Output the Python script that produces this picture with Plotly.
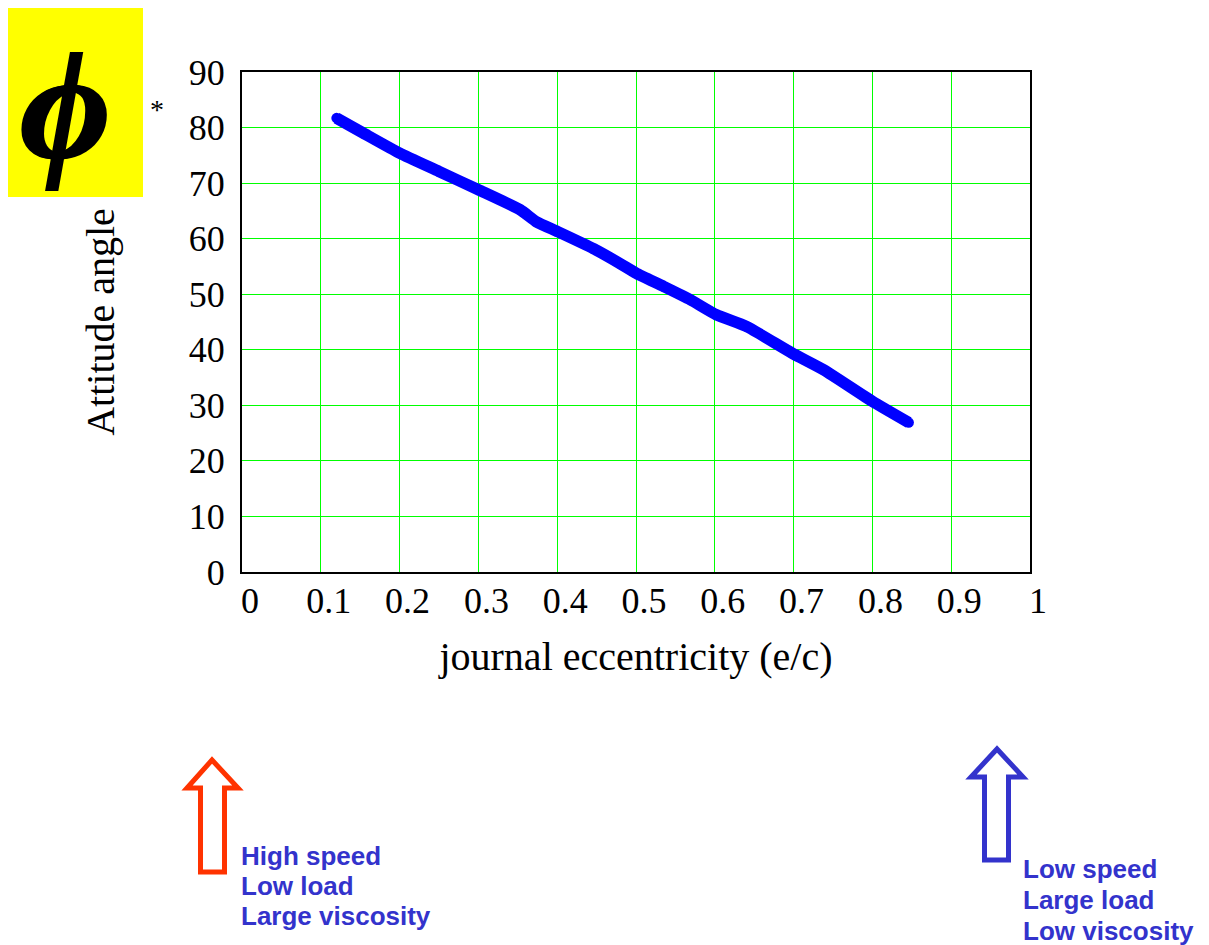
import plotly.graph_objects as go

# ---- data ----
eccentricity = [0.120, 0.154, 0.200, 0.250, 0.300, 0.353, 0.374, 0.400, 0.446, 0.480,
                0.500, 0.535, 0.569, 0.602, 0.640, 0.698, 0.738, 0.800, 0.846]
attitude_angle = [81.7, 79.0, 75.4, 72.1, 68.8, 65.2, 63.0, 61.3, 58.2, 55.5,
                  53.8, 51.4, 49.0, 46.3, 44.2, 39.4, 36.4, 30.7, 26.9]
x_ticks = [0, 0.1, 0.2, 0.3, 0.4, 0.5, 0.6, 0.7, 0.8, 0.9, 1]
x_tick_text = ["0", "0.1", "0.2", "0.3", "0.4", "0.5", "0.6", "0.7", "0.8", "0.9", "1"]
y_ticks = [0, 10, 20, 30, 40, 50, 60, 70, 80, 90]
left_note = ["High speed", "Low load", "Large viscosity"]
right_note = ["Low speed", "Large load", "Low viscosity"]

W, H = 1209, 945
OFF = 8  # default page body margin
L, R, T, B = 242, 1030, 72, 572


def px(x):
    return (x - L) / (R - L)


def py(y):
    return (B - y) / (B - T)


fig = go.Figure()
fig.add_trace(go.Scatter(
    x=eccentricity, y=attitude_angle, mode="lines+markers",
    line=dict(color="#0000FF", width=11.5, shape="spline", smoothing=0.5),
    marker=dict(color="#0000FF", size=10.5),
    showlegend=False, hoverinfo="x+y",
))

serif = "Liberation Serif, Times New Roman, serif"
sans = "Liberation Sans, Arial, sans-serif"

fig.update_layout(
    width=W - OFF, height=H - OFF,
    margin=dict(l=L - OFF, r=W - R, t=T - OFF, b=H - B),
    paper_bgcolor="white", plot_bgcolor="white",
    font=dict(family=serif, color="black"),
    xaxis=dict(
        range=[0, 1], tickvals=x_ticks, ticktext=x_tick_text,
        showgrid=True, gridcolor="#00FF00", gridwidth=1,
        showline=True, linecolor="black", linewidth=2, mirror=True,
        ticks="", zeroline=False,
        tickfont=dict(family=serif, size=36, color="black"),
        ticklabelshift=8, ticklabelstandoff=-4,
        title=dict(text="journal eccentricity (e/c)",
                   font=dict(family=serif, size=40, color="black"), standoff=22),
    ),
    yaxis=dict(
        range=[0, 90], tickvals=y_ticks,
        showgrid=True, gridcolor="#00FF00", gridwidth=1,
        showline=True, linecolor="black", linewidth=2, mirror=True,
        ticks="", zeroline=False,
        tickfont=dict(family=serif, size=36, color="black"),
        ticklabelstandoff=8,
        title=dict(text="Attitude angle",
                   font=dict(family=serif, size=40, color="black"), standoff=62),
    ),
)

# yellow phi box
fig.add_shape(type="rect", xref="paper", yref="paper",
              x0=px(6), x1=px(143), y0=py(197), y1=py(5),
              fillcolor="#FFFF00", line=dict(width=0), layer="below")
fig.add_annotation(x=px(65), y=py(106), xref="paper", yref="paper",
                   text="<b><i>ϕ</i></b>", showarrow=False,
                   font=dict(family=serif, size=155, color="black", weight=900,
                             shadow="2px 0 0 black, -1px 0 0 black"),
                   xanchor="center", yanchor="middle")
fig.add_annotation(x=px(157), y=py(110), xref="paper", yref="paper",
                   text="*", showarrow=False,
                   font=dict(family=serif, size=28, color="black"),
                   xanchor="center", yanchor="middle")


def arrow_path(tip, head_y, hx0, hx1, sx0, sx1, bot):
    pts = [(tip[0], tip[1]), (hx1, head_y), (sx1, head_y), (sx1, bot),
           (sx0, bot), (sx0, head_y), (hx0, head_y)]
    s = "M " + " L ".join(f"{px(a):.5f},{py(b):.5f}" for a, b in pts) + " Z"
    return s


fig.add_shape(type="path", xref="paper", yref="paper",
              path=arrow_path((212, 760), 788, 187, 238, 200.5, 224.5, 872),
              fillcolor="white", line=dict(color="#FF3300", width=5))
fig.add_shape(type="path", xref="paper", yref="paper",
              path=arrow_path((997, 749), 777, 971, 1023, 984.5, 1008.5, 860),
              fillcolor="white", line=dict(color="#3333CC", width=5))

for i, t in enumerate(left_note):
    fig.add_annotation(x=px(239), y=py(856 + 30 * i), xref="paper", yref="paper",
                       text=f"<b>{t}</b>", showarrow=False,
                       xanchor="left", yanchor="middle",
                       font=dict(family=sans, size=26, color="#3333CC"))
for i, t in enumerate(right_note):
    fig.add_annotation(x=px(1021), y=py(869 + 31 * i), xref="paper", yref="paper",
                       text=f"<b>{t}</b>", showarrow=False,
                       xanchor="left", yanchor="middle",
                       font=dict(family=sans, size=26, color="#3333CC"))

fig.write_html("out.html")
